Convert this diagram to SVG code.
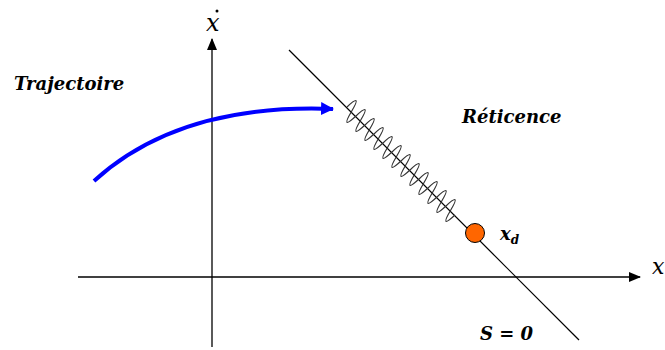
<svg xmlns="http://www.w3.org/2000/svg" width="665" height="350" viewBox="0 0 665 350">
<style>
.ax{stroke:#000;stroke-width:1.3;fill:none}
.lbl{font-family:"DejaVu Serif","Liberation Serif",serif;font-style:italic;font-weight:bold;fill:#000}
.ser{font-family:"DejaVu Serif","Liberation Serif",serif;font-style:italic;fill:#000}
</style>
<defs>
<marker id="ah" markerWidth="12" markerHeight="10" refX="11" refY="5" orient="auto" markerUnits="userSpaceOnUse">
<path d="M0,0 L12,5 L0,10 Z" fill="#000"/>
</marker>
<marker id="bh" markerWidth="13" markerHeight="13" refX="12" refY="6.5" orient="auto" markerUnits="userSpaceOnUse">
<path d="M0,0 L13,6.5 L0,13 Z" fill="#0000ff"/>
</marker>
</defs>
<rect width="665" height="350" fill="#fff"/>
<g id="connectors">
<line id="axis-y" class="ax" x1="212" y1="347" x2="212" y2="39" marker-end="url(#ah)"/>
<line id="axis-x" class="ax" x1="78" y1="277" x2="640" y2="277" marker-end="url(#ah)"/>
<line id="surface" x1="289" y1="50" x2="579" y2="340" stroke="#000" stroke-width="1.2"/>
<path id="trajectory" d="M94,181 C150,130 230,105 333,109" fill="none" stroke="#0000ff" stroke-width="4" marker-end="url(#bh)"/>
<path id="chattering" transform="matrix(1,1,-0.8,1,347,107)" vector-effect="non-scaling-stroke" fill="none" stroke="#333" stroke-width="1.2" d="M0,0 Q2.25,-17 4.5,0 T9,0 T13.5,0 T18,0 T22.5,0 T27,0 T31.5,0 T36,0 T40.5,0 T45,0 T49.5,0 T54,0 T58.5,0 T63,0 T67.5,0 T72,0 T76.5,0 T81,0 T85.5,0 T90,0 T94.5,0 T99,0 T103.5,0 T108,0"/>
</g>
<g id="xd-point">
<circle cx="475" cy="233" r="9.5" fill="#ff6600" stroke="#000" stroke-width="1"/>
<text class="lbl" x="500" y="240" font-size="18">x<tspan font-size="12" dy="4">d</tspan></text>
</g>
<g id="label-xdot">
<text class="ser" x="206" y="31" font-size="24">x</text>
<circle cx="217" cy="11" r="1.5" fill="#000"/>
</g>
<g id="label-x">
<text class="ser" x="652" y="274" font-size="22">x</text>
</g>
<g id="label-trajectoire">
<text class="lbl" x="14" y="90" font-size="18">Trajectoire</text>
</g>
<g id="label-reticence">
<text class="lbl" x="462" y="123" font-size="18">Réticence</text>
</g>
<g id="label-s">
<text class="lbl" x="480" y="340" font-size="18">S = 0</text>
</g>
</svg>
